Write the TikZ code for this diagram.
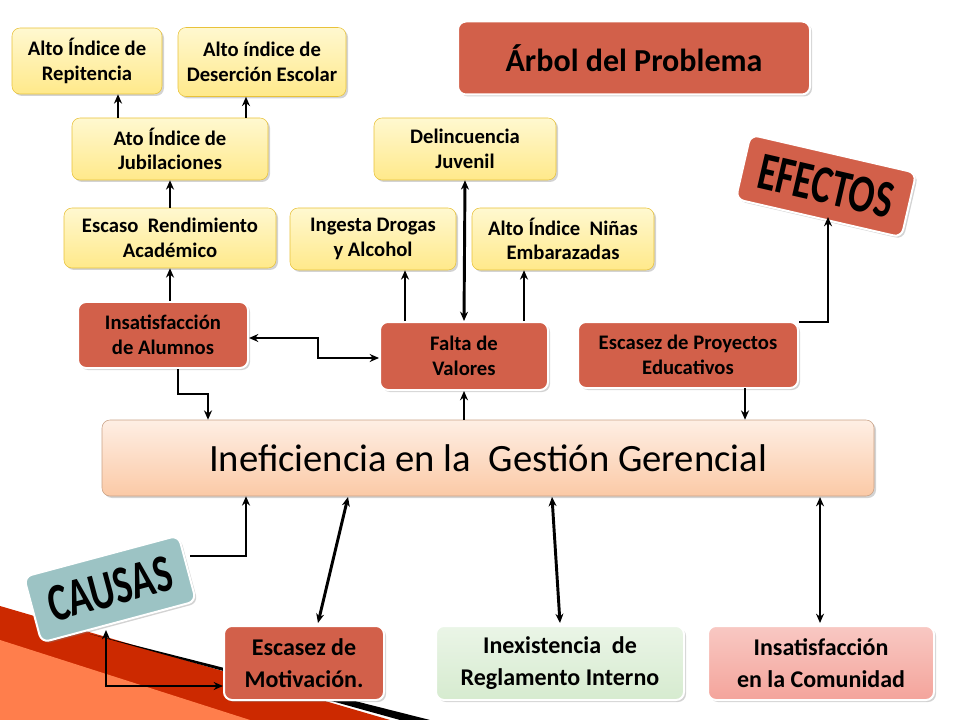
\documentclass[tikz,border=0pt]{standalone}
\usepackage{fontspec}
\usepackage{graphicx}
\setmainfont{Carlito}
\usetikzlibrary{shadows,arrows.meta}
\definecolor{yel}{HTML}{FFE98A}
\definecolor{yelL}{HTML}{FFF8D0}
\definecolor{yelB}{HTML}{E8C23A}
\definecolor{redb}{HTML}{D2604A}
\definecolor{peach}{HTML}{FBC9A6}
\definecolor{peachL}{HTML}{FEEFE4}
\definecolor{grn}{HTML}{D6EBCF}
\definecolor{pnk}{HTML}{F4A49B}
\definecolor{causa}{HTML}{9CC3C4}
\tikzset{
 base/.style={rounded corners=6pt,align=center,font=\bfseries,inner sep=2pt,drop shadow={shadow xshift=1.5pt,shadow yshift=-1.5pt,opacity=0.35}},
 ybox/.style={base,draw=yelB,top color=yelL,bottom color=yel,font=\bfseries\fontsize{15.5}{18.5}\selectfont},
 rbox/.style={base,draw=white,line width=1.5pt,fill=redb,font=\bfseries\fontsize{15.5}{18.5}\selectfont},
 ar/.style={-{Stealth[length=7pt,width=6pt]},line width=2.2pt},
 dar/.style={{Stealth[length=7pt,width=6pt]}-{Stealth[length=7pt,width=6pt]},line width=2.2pt},
}
\begin{document}
\begin{tikzpicture}[x=0.75pt,y=-0.75pt]
\useasboundingbox (0,0) rectangle (960,720);
\fill[red!60!orange!80!black] (0,606) -- (390,720) -- (0,720) -- cycle;
\fill[red!45!orange!70] (0,640) -- (250,720) -- (0,720) -- cycle;
\fill[black] (90,634) -- (430,720) -- (400,720) -- cycle;
\node[ybox,minimum width=150*0.75pt,minimum height=66*0.75pt] (rep) at (87,61) {Alto Índice de\\Repitencia};
\node[ybox,minimum width=168*0.75pt,minimum height=69*0.75pt] (des) at (262,62) {Alto índice de\\Deserción Escolar};
\node[rbox,minimum width=352*0.75pt,minimum height=73*0.75pt,font=\bfseries\fontsize{24}{28}\selectfont] (arb) at (634,58) {Árbol del Problema};
\node[ybox,minimum width=196*0.75pt,minimum height=62*0.75pt] (jub) at (170,149) {Ato Índice de\\Jubilaciones};
\node[ybox,minimum width=182*0.75pt,minimum height=62*0.75pt] (del) at (465,149) {Delincuencia\\Juvenil};
\node[rbox,minimum width=170*0.75pt,minimum height=66*0.75pt,rotate=-13,font=\bfseries\fontsize{40}{40}\selectfont] (efe) at (826,186) {\scalebox{0.72}[1]{EFECTOS}};
\node[ybox,minimum width=212*0.75pt,minimum height=60*0.75pt] (esc) at (170,238) {Escaso\ \ Rendimiento\\Académico};
\node[ybox,minimum width=166*0.75pt,minimum height=62*0.75pt] (ing) at (373,239) {Ingesta Drogas\\y Alcohol};
\node[ybox,minimum width=182*0.75pt,minimum height=62*0.75pt] (nin) at (563,239) {Alto Índice\ \ Niñas\\Embarazadas};
\node[rbox,minimum width=170*0.75pt,minimum height=66*0.75pt] (ins) at (163,335) {Insatisfacción\\de Alumnos};
\node[rbox,minimum width=168*0.75pt,minimum height=68*0.75pt] (fal) at (464,356) {Falta de\\Valores};
\node[rbox,minimum width=220*0.75pt,minimum height=66*0.75pt] (pro) at (688,355) {Escasez de Proyectos\\Educativos};
\node[base,draw=peach!80!black,top color=peachL,bottom color=peach,minimum width=772*0.75pt,minimum height=76*0.75pt,font=\fontsize{29}{33}\selectfont] (main) at (488,458) {Ineficiencia en la\ \ Gestión Gerencial};
\node[base,draw=white,line width=1.5pt,fill=causa,minimum width=160*0.75pt,minimum height=68*0.75pt,rotate=15,font=\bfseries\fontsize{40}{40}\selectfont] (cau) at (110,589) {\scalebox{0.72}[1]{CAUSAS}};
\node[rbox,minimum width=160*0.75pt,minimum height=74*0.75pt,font=\bfseries\fontsize{18}{24}\selectfont] (mot) at (304,663) {Escasez de\\Motivación.};
\node[base,draw=white,line width=1.5pt,top color=grn!50,bottom color=grn,minimum width=248*0.75pt,minimum height=74*0.75pt,font=\bfseries\fontsize{18}{24}\selectfont] (reg) at (560,663) {Inexistencia\ \ de\\Reglamento Interno};
\node[base,draw=white,line width=1.5pt,top color=pnk!60,bottom color=pnk,minimum width=226*0.75pt,minimum height=74*0.75pt,font=\bfseries\fontsize{18}{24}\selectfont] (com) at (821,663) {Insatisfacción\\en la Comunidad};
\draw[ar] (jub.north -| rep) ++(31,0) coordinate (a1) -- (a1 |- rep.south);
\draw[ar] (jub.north -| des) ++(-16,0) coordinate (a2) -- (a2 |- des.south);
\draw[ar] (esc.north) -- (jub.south);
\draw[ar] (ins.north -| esc) -- (esc.south);
\coordinate (b1) at (318,358); \coordinate (b2) at (318,338);
\draw[dar] (fal.west |- b1) -- (b1) -- (b2) -- (ins.east |- b2);
\coordinate (c1) at (178,394); \coordinate (c2) at (208,394);
\draw[ar] (ins.south -| c1) -- (c1) -- (c2) -- (c2 |- main.north);
\draw[ar] (405,321) coordinate (d1) -- (d1 |- ing.south);
\draw[dar] (fal.north) -- (del.south);
\draw[ar] (524,321) coordinate (d2) -- (d2 |- nin.south);
\draw[ar] (main.north -| fal) -- (fal.south);
\coordinate (e1) at (828,322);
\draw[ar] (pro.east |- e1) -- (e1) -- (828,217);
\draw[ar] (745,388) coordinate (e2) -- (e2 |- main.north);
\coordinate (f1) at (246,556);
\draw[ar] (190,556) -- (f1) -- (f1 |- main.south);
\draw[dar] (318,623) -- (348,497);
\draw[dar] (560,623) -- (552,497);
\draw[dar] (820,623) -- (820,497);
\coordinate (g1) at (106,686);
\draw[dar] (106,630) -- (g1) -- (mot.west |- g1);
\end{tikzpicture}
\end{document}
